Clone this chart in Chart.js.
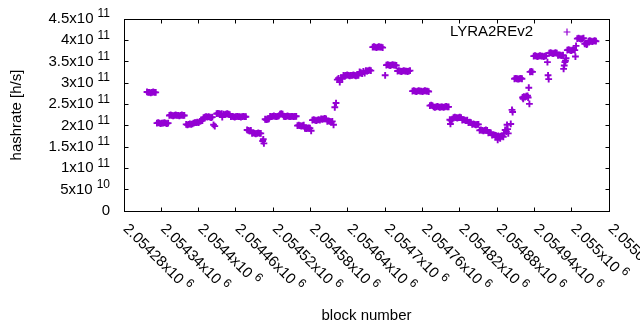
<!DOCTYPE html>
<html>
<head>
<meta charset="utf-8">
<script src="https://cdn.jsdelivr.net/npm/chart.js@4.4.1/dist/chart.umd.min.js"></script>
<style>
  html, body { margin: 0; padding: 0; background: #fff; }
  #wrap { width: 640px; height: 330px; }
</style>
</head>
<body>
<div id="wrap"><canvas id="chart" width="640" height="330"></canvas></div>
<script>
// block numbers (x) and hashrate in h/s (y)
const blocks = [
  2054317, 2054319, 2054321, 2054323, 2054325, 2054327, 2054329, 2054331,
  2054333, 2054335, 2054337, 2054339, 2054341, 2054343, 2054345, 2054347, 2054349, 2054351,
  2054353, 2054355, 2054357, 2054359, 2054361, 2054363, 2054365, 2054367, 2054369, 2054371, 2054373, 2054375, 2054377,
  2054380, 2054382, 2054384, 2054386, 2054388, 2054390,
  2054392, 2054394, 2054396, 2054398, 2054400,
  2054402, 2054404, 2054406,
  2054408, 2054410, 2054412, 2054414, 2054416, 2054418, 2054420, 2054422,
  2054424, 2054426,
  2054429, 2054431, 2054433, 2054435, 2054437, 2054438,
  2054440, 2054442, 2054444, 2054446, 2054448, 2054450,
  2054452, 2054454, 2054456, 2054458, 2054460, 2054462, 2054464, 2054466, 2054468, 2054470, 2054472, 2054474, 2054476,
  2054478, 2054480, 2054482, 2054484,
  2054486, 2054488, 2054490, 2054492, 2054494, 2054496, 2054498, 2054500,
  2054503, 2054504, 2054505,
  2054507, 2054509, 2054511, 2054513,
  2054515, 2054517, 2054519, 2054521, 2054523, 2054525, 2054527, 2054529,
  2054531, 2054533, 2054535,
  2054537, 2054539, 2054541, 2054543, 2054545, 2054547, 2054549, 2054551, 2054553, 2054555, 2054557,
  2054559, 2054561, 2054563, 2054565, 2054567, 2054569,
  2054571, 2054573, 2054575, 2054577, 2054579, 2054581,
  2054583, 2054585, 2054587, 2054589, 2054591, 2054593, 2054595,
  2054597, 2054599, 2054601, 2054603, 2054605,
  2054607, 2054609, 2054611, 2054613, 2054615,
  2054617, 2054619, 2054621,
  2054623, 2054625, 2054627, 2054629, 2054631,
  2054633, 2054635, 2054637, 2054639, 2054641, 2054643, 2054645, 2054647, 2054649, 2054651, 2054653, 2054655, 2054657,
  2054659, 2054661, 2054663, 2054665, 2054667,
  2054669, 2054671, 2054673, 2054675, 2054677,
  2054680, 2054682, 2054684, 2054686, 2054688, 2054690, 2054692, 2054694, 2054696,
  2054700,
  2054702, 2054704, 2054706, 2054708, 2054710, 2054712, 2054714, 2054716, 2054718,
  2054720, 2054722, 2054724, 2054726, 2054728, 2054730, 2054732, 2054734, 2054736, 2054738, 2054740,
  2054744, 2054746, 2054748, 2054750, 2054752, 2054754, 2054756, 2054758, 2054760, 2054762, 2054764, 2054766, 2054768, 2054770,
  2054772, 2054774, 2054776,
  2054778, 2054780, 2054782, 2054784, 2054786, 2054788, 2054790, 2054792, 2054794, 2054796, 2054798, 2054800, 2054802,
  2054804, 2054805, 2054806, 2054808,
  2054810, 2054812, 2054814, 2054816, 2054818, 2054820, 2054822,
  2054824, 2054826, 2054828, 2054830, 2054832,
  2054834, 2054836, 2054838,
  2054840, 2054842, 2054844, 2054846, 2054848, 2054850,
  2054852, 2054854, 2054856, 2054858, 2054860, 2054862, 2054864,
  2054866, 2054868, 2054870,
  2054872, 2054874, 2054876, 2054878,
  2054880, 2054881, 2054882, 2054884, 2054885, 2054886, 2054888, 2054890,
  2054891, 2054893, 2054895, 2054896, 2054897, 2054898,
  2054902, 2054904, 2054905,
  2054908, 2054910, 2054912, 2054914, 2054916, 2054918, 2054920,
  2054921, 2054922, 2054923, 2054925, 2054927, 2054929, 2054930, 2054931, 2054932,
  2054933, 2054935, 2054937,
  2054939, 2054941, 2054943, 2054945, 2054947, 2054949, 2054951, 2054953, 2054955, 2054957, 2054959,
  2054961, 2054962, 2054963,
  2054964, 2054966, 2054968, 2054970, 2054972, 2054974, 2054976,
  2054978, 2054980, 2054982, 2054984, 2054986,
  2054987, 2054988, 2054989, 2054990, 2054991,
  2054993, 2054995, 2054997, 2054999, 2055001, 2055003, 2055005, 2055006, 2055007,
  2055009, 2055011, 2055013, 2055015, 2055017, 2055019,
  2055021, 2055023, 2055024, 2055025,
  2055027, 2055029, 2055031, 2055033, 2055035, 2055037, 2055039
];

const hashrate = [
  2.79e11, 2.78e11, 2.78e11, 2.77e11, 2.78e11, 2.79e11, 2.78e11, 2.78e11,
  2.06e11, 2.07e11, 2.06e11, 2.05e11, 2.06e11, 2.06e11, 2.07e11, 2.06e11, 2.05e11, 2.06e11,
  2.24e11, 2.25e11, 2.24e11, 2.23e11, 2.24e11, 2.25e11, 2.24e11, 2.24e11, 2.23e11, 2.24e11, 2.25e11, 2.24e11, 2.24e11,
  2.03e11, 2.02e11, 2.03e11, 2.04e11, 2.03e11, 2.04e11,
  2.06e11, 2.07e11, 2.07e11, 2.08e11, 2.07e11,
  2.10e11, 2.11e11, 2.12e11,
  2.19e11, 2.20e11, 2.21e11, 2.20e11, 2.21e11, 2.20e11, 2.19e11, 2.20e11,
  2.02e11, 1.99e11,
  2.28e11, 2.29e11, 2.28e11, 2.27e11, 2.28e11, 2.20e11,
  2.27e11, 2.26e11, 2.27e11, 2.28e11, 2.27e11, 2.26e11,
  2.21e11, 2.22e11, 2.21e11, 2.20e11, 2.21e11, 2.22e11, 2.21e11, 2.21e11, 2.20e11, 2.21e11, 2.22e11, 2.21e11, 2.21e11,
  1.90e11, 1.89e11, 1.88e11, 1.89e11,
  1.82e11, 1.83e11, 1.82e11, 1.81e11, 1.82e11, 1.83e11, 1.82e11, 1.82e11,
  1.64e11, 1.68e11, 1.585e11,
  2.15e11, 2.14e11, 2.15e11, 2.16e11,
  2.22e11, 2.21e11, 2.22e11, 2.23e11, 2.22e11, 2.21e11, 2.22e11, 2.23e11,
  2.27e11, 2.28e11, 2.27e11,
  2.22e11, 2.21e11, 2.22e11, 2.23e11, 2.22e11, 2.21e11, 2.22e11, 2.22e11, 2.21e11, 2.22e11, 2.22e11,
  2.00e11, 2.01e11, 2.00e11, 1.99e11, 2.00e11, 2.01e11,
  1.94e11, 1.93e11, 1.94e11, 1.95e11, 1.94e11, 1.88e11,
  2.13e11, 2.14e11, 2.13e11, 2.12e11, 2.13e11, 2.14e11, 2.13e11,
  2.16e11, 2.15e11, 2.16e11, 2.17e11, 2.16e11,
  2.10e11, 2.11e11, 2.10e11, 2.09e11, 2.10e11,
  2.02e11, 2.43e11, 2.53e11,
  3.08e11, 3.11e11, 3.02e11, 3.12e11, 3.10e11,
  3.18e11, 3.17e11, 3.18e11, 3.19e11, 3.18e11, 3.17e11, 3.18e11, 3.18e11, 3.19e11, 3.18e11, 3.17e11, 3.18e11, 3.18e11,
  3.26e11, 3.24e11, 3.22e11, 3.27e11, 3.23e11,
  3.29e11, 3.28e11, 3.29e11, 3.30e11, 3.29e11,
  3.84e11, 3.85e11, 3.84e11, 3.83e11, 3.84e11, 3.85e11, 3.84e11, 3.84e11, 3.83e11,
  3.18e11,
  3.42e11, 3.43e11, 3.42e11, 3.41e11, 3.42e11, 3.43e11, 3.42e11, 3.42e11, 3.41e11,
  3.28e11, 3.29e11, 3.28e11, 3.27e11, 3.28e11, 3.29e11, 3.28e11, 3.28e11, 3.27e11, 3.28e11, 3.29e11,
  2.81e11, 2.82e11, 2.81e11, 2.80e11, 2.81e11, 2.82e11, 2.81e11, 2.81e11, 2.80e11, 2.81e11, 2.82e11, 2.81e11, 2.81e11, 2.80e11,
  2.47e11, 2.48e11, 2.47e11,
  2.44e11, 2.43e11, 2.44e11, 2.45e11, 2.44e11, 2.43e11, 2.44e11, 2.44e11, 2.43e11, 2.44e11, 2.45e11, 2.44e11, 2.44e11,
  2.14e11, 2.04e11, 2.12e11, 2.15e11,
  2.19e11, 2.20e11, 2.19e11, 2.18e11, 2.19e11, 2.20e11, 2.19e11,
  2.13e11, 2.14e11, 2.13e11, 2.12e11, 2.13e11,
  2.07e11, 2.08e11, 2.07e11,
  2.03e11, 2.04e11, 2.03e11, 2.02e11, 2.03e11, 2.03e11,
  1.89e11, 1.90e11, 1.89e11, 1.88e11, 1.89e11, 1.90e11, 1.89e11,
  1.83e11, 1.84e11, 1.83e11,
  1.78e11, 1.79e11, 1.78e11, 1.77e11,
  1.75e11, 1.67e11, 1.76e11, 1.74e11, 1.70e11, 1.75e11, 1.76e11, 1.74e11,
  1.82e11, 1.90e11, 1.86e11, 2.02e11, 1.92e11, 1.82e11,
  2.04e11, 2.37e11, 2.32e11,
  3.10e11, 3.11e11, 3.10e11, 3.09e11, 3.10e11, 3.11e11, 3.10e11,
  2.66e11, 2.63e11, 2.68e11, 2.67e11, 2.69e11, 2.70e11, 2.66e11, 2.89e11, 2.51e11,
  3.26e11, 3.27e11, 3.26e11,
  3.63e11, 3.64e11, 3.63e11, 3.62e11, 3.63e11, 3.64e11, 3.63e11, 3.63e11, 3.62e11, 3.63e11, 3.64e11,
  3.49e11, 3.18e11, 3.09e11,
  3.70e11, 3.71e11, 3.70e11, 3.69e11, 3.70e11, 3.71e11, 3.70e11,
  3.65e11, 3.66e11, 3.65e11, 3.64e11, 3.65e11,
  3.33e11, 3.41e11, 3.49e11, 3.52e11, 3.58e11,
  3.77e11, 3.78e11, 3.77e11, 3.76e11, 3.77e11, 3.78e11, 3.77e11, 3.62e11, 3.87e11,
  4.04e11, 4.05e11, 4.04e11, 4.03e11, 4.04e11, 4.05e11,
  3.92e11, 3.93e11, 3.90e11, 3.92e11,
  3.98e11, 3.99e11, 3.98e11, 3.97e11, 3.98e11, 3.99e11, 3.98e11
];

const xTickValues = [2054280, 2054340, 2054400, 2054460, 2054520, 2054580, 2054640,
  2054700, 2054760, 2054820, 2054880, 2054940, 2055000, 2055060];
const xTickLabels = ['2.05428x10^6', '2.05434x10^6', '2.0544x10^6', '2.05446x10^6', '2.05452x10^6',
  '2.05458x10^6', '2.05464x10^6', '2.0547x10^6', '2.05476x10^6', '2.05482x10^6',
  '2.05488x10^6', '2.05494x10^6', '2.055x10^6', '2.05506x10^6'];
const yTickValues = [0, 5e10, 1e11, 1.5e11, 2e11, 2.5e11, 3e11, 3.5e11, 4e11, 4.5e11];
const yTickLabels = ['0', '5x10^10', '1x10^11', '1.5x10^11', '2x10^11',
  '2.5x10^11', '3x10^11', '3.5x10^11', '4x10^11', '4.5x10^11'];

const seriesName = 'LYRA2REv2';
const violet = '#9400d3';
const FONT = '"Liberation Sans", Arial, sans-serif';

// text like "4.5x10^11" -> base + smaller raised exponent
function labelWidth(ctx, text) {
  const [base, sup] = text.split('^');
  ctx.font = '15px ' + FONT;
  let w = ctx.measureText(base).width;
  if (sup) {
    ctx.font = '12px ' + FONT;
    w += 4 + ctx.measureText(sup).width;
  }
  return w;
}

function drawLabel(ctx, text, x, y) {
  const [base, sup] = text.split('^');
  ctx.textAlign = 'left';
  ctx.textBaseline = 'middle';
  ctx.font = '15px ' + FONT;
  ctx.fillText(base, x, y);
  if (sup) {
    const w = ctx.measureText(base).width;
    ctx.font = '12px ' + FONT;
    ctx.fillText(sup, x + w + 4, y - 5);
  }
}

const gnuplotFrame = {
  id: 'gnuplotFrame',
  afterDatasetsDraw(chart) {
    const { ctx, chartArea: a, scales: { x, y } } = chart;
    const L = Math.floor(a.left) + 0.5, R = Math.floor(a.right) + 0.5;
    const T = Math.floor(a.top) + 0.5, B = Math.floor(a.bottom) + 0.5;
    ctx.save();
    ctx.strokeStyle = '#000';
    ctx.lineWidth = 1;
    ctx.beginPath();
    // inward ticks on all four sides
    xTickValues.forEach(v => {
      const px = Math.floor(x.getPixelForValue(v)) + 0.5;
      ctx.moveTo(px, B); ctx.lineTo(px, B - 4);
      ctx.moveTo(px, T); ctx.lineTo(px, T + 4);
    });
    yTickValues.forEach(v => {
      const py = Math.floor(y.getPixelForValue(v)) + 0.5;
      ctx.moveTo(L, py); ctx.lineTo(L + 4, py);
      ctx.moveTo(R, py); ctx.lineTo(R - 4, py);
    });
    ctx.stroke();
    ctx.strokeRect(L, T, R - L, B - T);

    ctx.fillStyle = '#000';
    // y tick labels, right aligned
    yTickValues.forEach((v, i) => {
      const py = y.getPixelForValue(v);
      const w = labelWidth(ctx, yTickLabels[i]);
      drawLabel(ctx, yTickLabels[i], 110 - w, py);
    });
    // x tick labels, rotated -45 degrees
    xTickValues.forEach((v, i) => {
      const px = x.getPixelForValue(v);
      ctx.save();
      ctx.translate(px + 1.5, B + 15);
      ctx.rotate(Math.PI / 4);
      drawLabel(ctx, xTickLabels[i], 0, 0);
      ctx.restore();
    });

    // key: title then sample point
    const ds = chart.data.datasets[0];
    ctx.font = '15px ' + FONT;
    ctx.textAlign = 'right';
    ctx.textBaseline = 'middle';
    ctx.fillText(ds.label, 533, 32);
    ctx.strokeStyle = violet;
    ctx.lineWidth = 1.2;
    ctx.beginPath();
    ctx.moveTo(567 - ds.pointRadius, 32); ctx.lineTo(567 + ds.pointRadius, 32);
    ctx.moveTo(567, 32 - ds.pointRadius); ctx.lineTo(567, 32 + ds.pointRadius);
    ctx.stroke();
    ctx.restore();
  }
};

new Chart(document.getElementById('chart'), {
  type: 'scatter',
  data: {
    datasets: [{
      label: seriesName,
      data: blocks.map((b, i) => ({ x: b, y: hashrate[i] })),
      pointStyle: 'cross',
      pointRadius: 3.4,
      borderWidth: 1.9,
      borderColor: violet,
      backgroundColor: violet
    }]
  },
  options: {
    responsive: false,
    animation: false,
    devicePixelRatio: 1,
    events: [],
    layout: { padding: { left: 0, right: 31, top: 19, bottom: 0 } },
    plugins: { legend: { display: false }, tooltip: { enabled: false } },
    scales: {
      x: {
        type: 'linear',
        min: xTickValues[0],
        max: xTickValues[xTickValues.length - 1],
        afterBuildTicks: s => { s.ticks = xTickValues.map(v => ({ value: v })); },
        afterFit: s => { s.height = 119; },
        ticks: { display: false },
        grid: { display: false },
        border: { display: false },
        title: { display: true, text: 'block number', color: '#000',
                 font: { family: FONT, size: 15 }, padding: { top: 0, bottom: 5 } }
      },
      y: {
        min: yTickValues[0],
        max: yTickValues[yTickValues.length - 1],
        afterBuildTicks: s => { s.ticks = yTickValues.map(v => ({ value: v })); },
        afterFit: s => { s.width = 124; },
        ticks: { display: false },
        grid: { display: false },
        border: { display: false },
        title: { display: true, text: 'hashrate [h/s]', color: '#000',
                 font: { family: FONT, size: 15 }, padding: { top: 8, bottom: 0 } }
      }
    }
  },
  plugins: [gnuplotFrame]
});
</script>
</body>
</html>
